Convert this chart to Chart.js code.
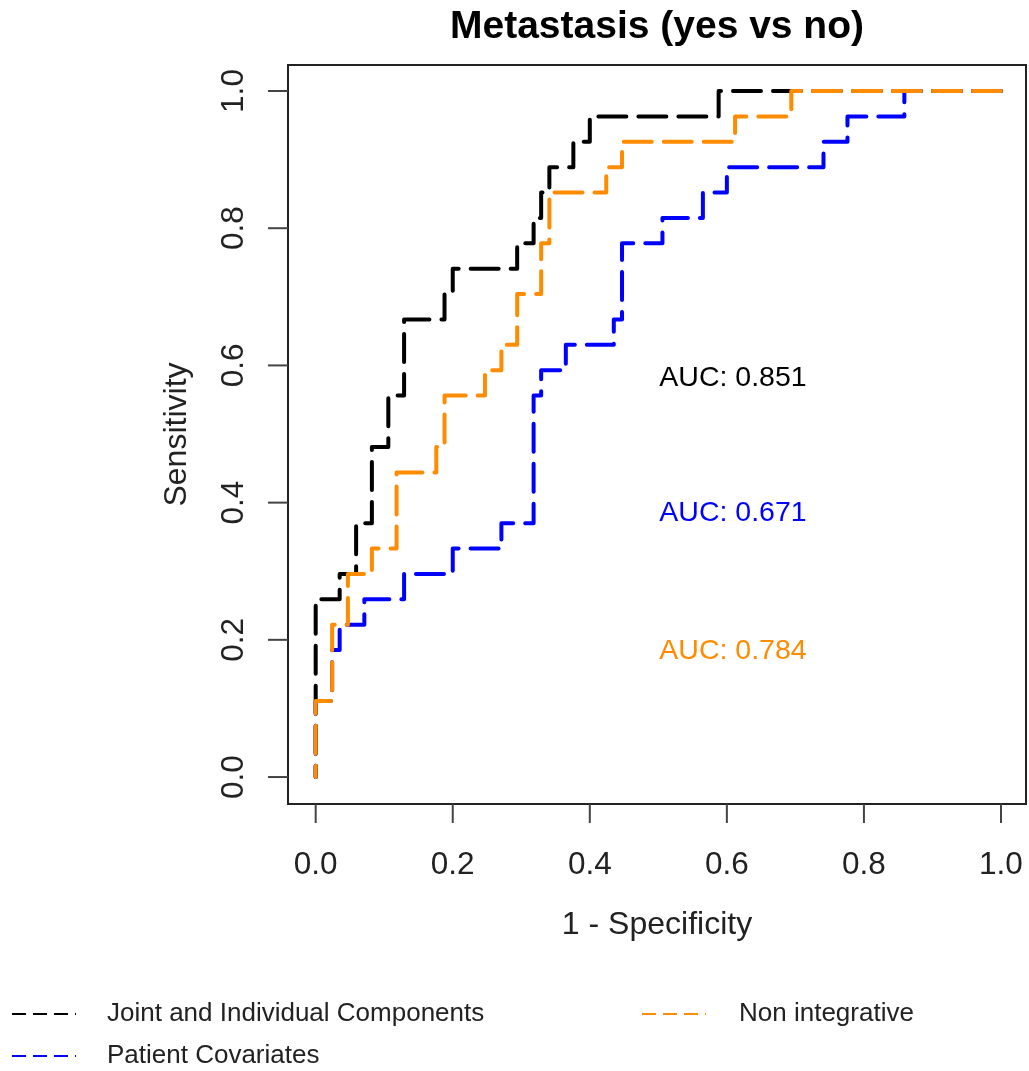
<!DOCTYPE html>
<html>
<head>
<meta charset="utf-8">
<script src="https://cdn.jsdelivr.net/npm/chart.js@4/dist/chart.umd.min.js"></script>
<style>
  html, body { margin: 0; padding: 0; background: #ffffff; }
  #wrap { width: 1029px; height: 1071px; position: relative; }
</style>
</head>
<body>
<div id="wrap"><canvas id="c" width="1029" height="1071"></canvas></div>
<script>
// ---- Data (ROC points: 1 - specificity, sensitivity) ----
const seriesNames = ["Joint and Individual Components", "Patient Covariates", "Non integrative"];
const seriesColors = ["#000000", "#0000FF", "#FF8C00"];
const aucLabels = ["AUC: 0.851", "AUC: 0.671", "AUC: 0.784"];
const aucPosX = [0.5, 0.5, 0.5];
const aucPosY = [0.582, 0.384, 0.184];

const fprJoint = [0, 0, 0.035, 0.035, 0.059, 0.059, 0.082, 0.082, 0.106, 0.106, 0.129, 0.129, 0.188, 0.188, 0.200, 0.200, 0.294, 0.294, 0.318, 0.318, 0.329, 0.329, 0.341, 0.341, 0.376, 0.376, 0.400, 0.400, 0.588, 0.588, 1];
const tprJoint = [0, 0.259, 0.259, 0.296, 0.296, 0.370, 0.370, 0.481, 0.481, 0.556, 0.556, 0.667, 0.667, 0.704, 0.704, 0.741, 0.741, 0.778, 0.778, 0.815, 0.815, 0.852, 0.852, 0.889, 0.889, 0.926, 0.926, 0.963, 0.963, 1, 1];

const fprPatient = [0, 0, 0.024, 0.024, 0.035, 0.035, 0.071, 0.071, 0.129, 0.129, 0.200, 0.200, 0.271, 0.271, 0.318, 0.318, 0.329, 0.329, 0.365, 0.365, 0.435, 0.435, 0.447, 0.447, 0.506, 0.506, 0.565, 0.565, 0.600, 0.600, 0.741, 0.741, 0.776, 0.776, 0.859, 0.859, 1];
const tprPatient = [0, 0.111, 0.111, 0.185, 0.185, 0.222, 0.222, 0.259, 0.259, 0.296, 0.296, 0.333, 0.333, 0.370, 0.370, 0.556, 0.556, 0.593, 0.593, 0.630, 0.630, 0.667, 0.667, 0.778, 0.778, 0.815, 0.815, 0.852, 0.852, 0.889, 0.889, 0.926, 0.926, 0.963, 0.963, 1, 1];

const fprNonInt = [0, 0, 0.024, 0.024, 0.047, 0.047, 0.082, 0.082, 0.118, 0.118, 0.176, 0.176, 0.188, 0.188, 0.247, 0.247, 0.271, 0.271, 0.294, 0.294, 0.329, 0.329, 0.341, 0.341, 0.424, 0.424, 0.447, 0.447, 0.612, 0.612, 0.694, 0.694, 1];
const tprNonInt = [0, 0.111, 0.111, 0.222, 0.222, 0.296, 0.296, 0.333, 0.333, 0.444, 0.444, 0.481, 0.481, 0.556, 0.556, 0.593, 0.593, 0.630, 0.630, 0.704, 0.704, 0.778, 0.778, 0.852, 0.852, 0.889, 0.889, 0.926, 0.926, 0.963, 0.963, 1, 1];

const tickValues = [0, 0.2, 0.4, 0.6, 0.8, 1.0];
const tickLabels = ["0.0", "0.2", "0.4", "0.6", "0.8", "1.0"];

const chartTitle = "Metastasis (yes vs no)";
const xTitle = "1 - Specificity";
const yTitle = "Sensitivity";

// Build points, drawn from (1,1) towards (0,0) as in the original path
function pts(fx, ty) {
  const out = fx.map((v, i) => ({ x: v, y: ty[i] }));
  return out.reverse();
}

const FONT = "'Liberation Sans', Arial, Helvetica, sans-serif";

const decorPlugin = {
  id: 'decor',
  afterDatasetsDraw(chart) {
    const { ctx, chartArea: a, scales } = chart;
    const xs = scales.x, ys = scales.y;
    ctx.save();
    // box
    ctx.strokeStyle = '#222';
    ctx.lineWidth = 2;
    ctx.strokeRect(a.left, a.top, a.right - a.left, a.bottom - a.top);

    // tick marks
    ctx.strokeStyle = '#444';
    ctx.lineWidth = 2;
    tickValues.forEach(v => {
      const px = xs.getPixelForValue(v);
      ctx.beginPath(); ctx.moveTo(px, a.bottom); ctx.lineTo(px, a.bottom + 19); ctx.stroke();
      const py = ys.getPixelForValue(v);
      ctx.beginPath(); ctx.moveTo(a.left, py); ctx.lineTo(a.left - 20, py); ctx.stroke();
    });

    // tick labels
    ctx.fillStyle = '#222';
    ctx.font = `31.5px ${FONT}`;
    ctx.textAlign = 'center';
    ctx.textBaseline = 'alphabetic';
    tickValues.forEach((v, i) => {
      ctx.fillText(tickLabels[i], xs.getPixelForValue(v), 874);
    });
    tickValues.forEach((v, i) => {
      const py = ys.getPixelForValue(v);
      ctx.save();
      ctx.translate(243, py);
      ctx.rotate(-Math.PI / 2);
      ctx.fillText(tickLabels[i], 0, 0);
      ctx.restore();
    });

    // axis titles
    ctx.font = `32px ${FONT}`;
    ctx.fillStyle = '#222';
    ctx.fillText(xTitle, (a.left + a.right) / 2, 934);
    ctx.save();
    ctx.translate(186, (a.top + a.bottom) / 2);
    ctx.rotate(-Math.PI / 2);
    ctx.fillText(yTitle, 0, 0);
    ctx.restore();

    // main title
    ctx.font = `bold 39px ${FONT}`;
    ctx.fillStyle = '#000';
    ctx.fillText(chartTitle, (a.left + a.right) / 2, 38);

    // AUC labels
    ctx.font = `28.5px ${FONT}`;
    ctx.textAlign = 'left';
    ctx.textBaseline = 'middle';
    aucLabels.forEach((t, i) => {
      ctx.fillStyle = seriesColors[i];
      ctx.fillText(t, xs.getPixelForValue(aucPosX[i]) + 1, ys.getPixelForValue(aucPosY[i]));
    });

    // legend
    const legendItems = [
      { i: 0, lx: 12, tx: 107, y: 1014 },
      { i: 2, lx: 642, tx: 739, y: 1014 },
      { i: 1, lx: 12, tx: 107, y: 1056 }
    ];
    legendItems.forEach(it => {
      ctx.strokeStyle = seriesColors[it.i];
      ctx.lineWidth = 2;
      ctx.setLineDash([14, 7]);
      ctx.lineCap = 'butt';
      ctx.beginPath(); ctx.moveTo(it.lx, it.y); ctx.lineTo(it.lx + 64, it.y); ctx.stroke();
      ctx.setLineDash([]);
      ctx.fillStyle = '#222';
      ctx.font = `26px ${FONT}`;
      ctx.textAlign = 'left';
      ctx.textBaseline = 'middle';
      ctx.fillText(seriesNames[it.i], it.tx, it.y);
    });
    ctx.restore();
  }
};

const commonLine = {
  showLine: true,
  pointRadius: 0,
  pointHoverRadius: 0,
  borderWidth: 4,
  borderDash: [28, 12],
  borderCapStyle: 'round',
  borderJoinStyle: 'round',
  tension: 0,
  fill: false
};

new Chart(document.getElementById('c'), {
  type: 'scatter',
  data: {
    datasets: [
      Object.assign({ label: seriesNames[0], data: pts(fprJoint, tprJoint), borderColor: seriesColors[0], order: 3 }, commonLine),
      Object.assign({ label: seriesNames[1], data: pts(fprPatient, tprPatient), borderColor: seriesColors[1], order: 2 }, commonLine),
      Object.assign({ label: seriesNames[2], data: pts(fprNonInt, tprNonInt), borderColor: seriesColors[2], order: 1 }, commonLine)
    ]
  },
  options: {
    responsive: false,
    animation: false,
    devicePixelRatio: 1,
    layout: { padding: { top: 65, right: 3, left: 0, bottom: 0 } },
    plugins: { legend: { display: false }, title: { display: false }, tooltip: { enabled: false } },
    scales: {
      x: {
        type: 'linear', min: -0.0404, max: 1.0365,
        afterBuildTicks: s => { s.ticks = tickValues.map(v => ({ value: v })); },
        afterFit: s => { s.height = 267; },
        grid: { display: false }, border: { display: false },
        ticks: { display: false }
      },
      y: {
        type: 'linear', min: -0.0393, max: 1.0379,
        afterBuildTicks: s => { s.ticks = tickValues.map(v => ({ value: v })); },
        afterFit: s => { s.width = 288; },
        grid: { display: false }, border: { display: false },
        ticks: { display: false }
      }
    }
  },
  plugins: [decorPlugin]
});
</script>
</body>
</html>
